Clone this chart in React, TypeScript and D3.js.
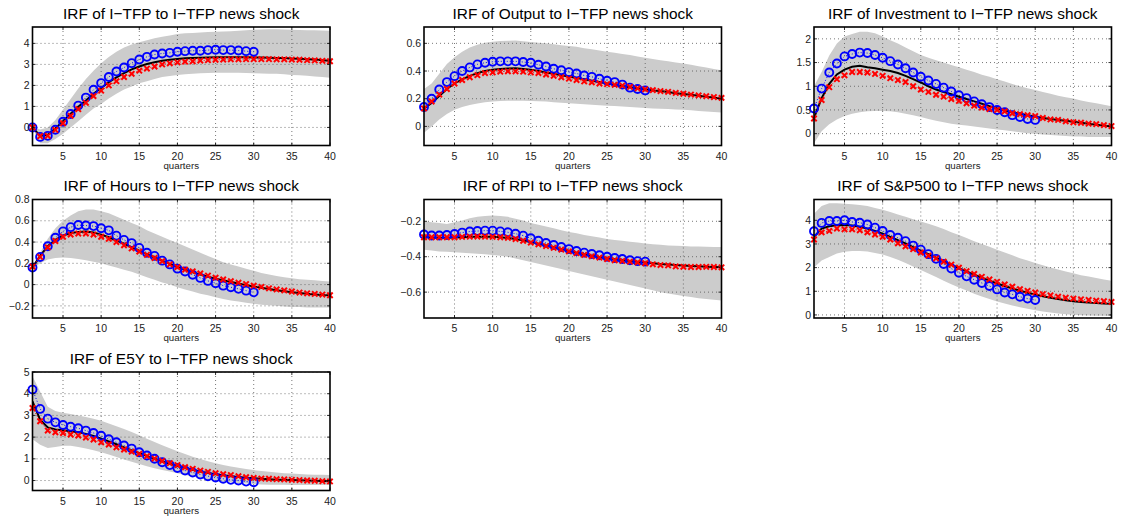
import React from "react";
import * as d3 from "d3";

const quarters = d3.range(1, 41);
const xTicks = [5, 10, 15, 20, 25, 30, 35, 40];

// ---- I-TFP ----
const itfpMedian = [0, -0.4, -0.35, -0.05, 0.3, 0.65, 0.98, 1.28, 1.6, 1.88, 2.15, 2.38, 2.58, 2.76, 2.9, 3.02, 3.1, 3.17, 3.22, 3.26, 3.29, 3.31, 3.32, 3.33, 3.34, 3.34, 3.34, 3.34, 3.34, 3.33, 3.33, 3.32, 3.31, 3.3, 3.28, 3.27, 3.25, 3.23, 3.2, 3.17];
const itfpUpper = [0.05, -0.1, 0.0, 0.35, 0.85, 1.35, 1.85, 2.3, 2.7, 3.05, 3.35, 3.6, 3.8, 3.95, 4.05, 4.15, 4.25, 4.32, 4.38, 4.45, 4.48, 4.5, 4.52, 4.54, 4.55, 4.57, 4.58, 4.6, 4.62, 4.65, 4.66, 4.67, 4.67, 4.66, 4.65, 4.64, 4.63, 4.62, 4.61, 4.6];
const itfpLower = [-0.05, -0.75, -0.75, -0.55, -0.3, 0.0, 0.3, 0.6, 0.9, 1.12, 1.38, 1.6, 1.8, 1.95, 2.1, 2.2, 2.3, 2.4, 2.45, 2.5, 2.53, 2.56, 2.58, 2.59, 2.6, 2.6, 2.6, 2.6, 2.59, 2.58, 2.57, 2.56, 2.55, 2.53, 2.5, 2.48, 2.46, 2.43, 2.4, 2.37];
const itfpBlue = [0, -0.45, -0.4, -0.11, 0.27, 0.64, 1.04, 1.42, 1.79, 2.11, 2.4, 2.66, 2.85, 3.06, 3.23, 3.36, 3.47, 3.52, 3.55, 3.6, 3.63, 3.65, 3.65, 3.68, 3.7, 3.68, 3.68, 3.66, 3.63, 3.6];
const itfpRed = [0, -0.42, -0.4, -0.12, 0.2, 0.55, 0.87, 1.17, 1.49, 1.75, 2.0, 2.2, 2.4, 2.55, 2.7, 2.8, 2.9, 3.0, 3.05, 3.1, 3.13, 3.15, 3.18, 3.2, 3.22, 3.23, 3.24, 3.24, 3.25, 3.25, 3.25, 3.25, 3.24, 3.24, 3.23, 3.22, 3.2, 3.19, 3.17, 3.15];

// ---- Output ----
const outMedian = [0.13, 0.17, 0.22, 0.27, 0.31, 0.34, 0.365, 0.385, 0.4, 0.41, 0.415, 0.418, 0.42, 0.415, 0.41, 0.4, 0.39, 0.38, 0.37, 0.36, 0.35, 0.34, 0.33, 0.32, 0.31, 0.3, 0.29, 0.283, 0.275, 0.268, 0.26, 0.255, 0.248, 0.24, 0.234, 0.228, 0.222, 0.215, 0.208, 0.2];
const outUpper = [0.27, 0.31, 0.38, 0.45, 0.5, 0.54, 0.57, 0.59, 0.605, 0.612, 0.616, 0.618, 0.62, 0.615, 0.61, 0.605, 0.6, 0.593, 0.587, 0.58, 0.575, 0.565, 0.557, 0.548, 0.54, 0.532, 0.523, 0.515, 0.505, 0.495, 0.487, 0.478, 0.47, 0.462, 0.455, 0.445, 0.435, 0.425, 0.415, 0.405];
const outLower = [-0.045, 0.0, 0.05, 0.09, 0.12, 0.14, 0.155, 0.165, 0.175, 0.18, 0.183, 0.185, 0.185, 0.185, 0.184, 0.182, 0.179, 0.175, 0.171, 0.168, 0.164, 0.16, 0.157, 0.153, 0.15, 0.147, 0.143, 0.14, 0.137, 0.133, 0.13, 0.128, 0.125, 0.122, 0.12, 0.116, 0.112, 0.108, 0.104, 0.1];
const outBlue = [0.14, 0.2, 0.266, 0.32, 0.363, 0.4, 0.426, 0.448, 0.46, 0.467, 0.47, 0.47, 0.47, 0.465, 0.46, 0.445, 0.433, 0.416, 0.406, 0.392, 0.382, 0.368, 0.358, 0.344, 0.33, 0.32, 0.302, 0.28, 0.27, 0.26];
const outRed = [0.13, 0.18, 0.23, 0.27, 0.31, 0.335, 0.355, 0.37, 0.385, 0.39, 0.395, 0.398, 0.398, 0.395, 0.39, 0.385, 0.375, 0.365, 0.355, 0.345, 0.335, 0.325, 0.318, 0.31, 0.305, 0.3, 0.295, 0.285, 0.275, 0.268, 0.262, 0.255, 0.25, 0.242, 0.236, 0.23, 0.224, 0.218, 0.212, 0.206];

// ---- Investment ----
const invMedian = [0.33, 0.75, 1.05, 1.25, 1.35, 1.41, 1.43, 1.4, 1.38, 1.35, 1.32, 1.28, 1.22, 1.15, 1.08, 1.0, 0.93, 0.88, 0.83, 0.78, 0.73, 0.68, 0.63, 0.58, 0.53, 0.49, 0.45, 0.42, 0.39, 0.36, 0.33, 0.31, 0.29, 0.27, 0.25, 0.23, 0.21, 0.19, 0.17, 0.15];
const invUpper = [1.0, 1.3, 1.65, 1.9, 2.05, 2.1, 2.15, 2.15, 2.12, 2.05, 1.97, 1.9, 1.82, 1.74, 1.66, 1.6, 1.55, 1.5, 1.45, 1.4, 1.35, 1.3, 1.24, 1.2, 1.15, 1.1, 1.05, 1.0, 0.96, 0.92, 0.88, 0.84, 0.8, 0.77, 0.74, 0.7, 0.67, 0.64, 0.61, 0.58];
const invLower = [-0.2, 0.05, 0.2, 0.3, 0.37, 0.42, 0.45, 0.47, 0.48, 0.48, 0.47, 0.45, 0.42, 0.39, 0.35, 0.31, 0.27, 0.24, 0.21, 0.19, 0.17, 0.15, 0.13, 0.11, 0.09, 0.07, 0.05, 0.03, 0.01, 0.0, -0.02, -0.03, -0.04, -0.05, -0.06, -0.06, -0.07, -0.07, -0.07, -0.07];
const invBlue = [0.53, 0.95, 1.29, 1.48, 1.63, 1.68, 1.71, 1.7, 1.66, 1.6, 1.53, 1.46, 1.38, 1.29, 1.2, 1.12, 1.05, 0.97, 0.89, 0.81, 0.75, 0.68, 0.62, 0.56, 0.5, 0.45, 0.39, 0.35, 0.31, 0.29];
const invRed = [0.32, 0.71, 0.98, 1.15, 1.23, 1.3, 1.3, 1.29, 1.26, 1.22, 1.17, 1.13, 1.09, 1.0, 0.93, 0.88, 0.82, 0.78, 0.73, 0.69, 0.64, 0.59, 0.55, 0.52, 0.5, 0.47, 0.43, 0.41, 0.39, 0.37, 0.33, 0.3, 0.29, 0.26, 0.24, 0.23, 0.21, 0.2, 0.18, 0.16];

// ---- Hours ----
const hrsMedian = [0.16, 0.27, 0.36, 0.42, 0.46, 0.485, 0.495, 0.5, 0.49, 0.47, 0.445, 0.415, 0.385, 0.35, 0.32, 0.285, 0.255, 0.225, 0.195, 0.165, 0.14, 0.115, 0.095, 0.075, 0.055, 0.04, 0.025, 0.01, -0.005, -0.018, -0.03, -0.042, -0.053, -0.063, -0.072, -0.08, -0.087, -0.093, -0.098, -0.1];
const hrsUpper = [0.17, 0.3, 0.43, 0.53, 0.6, 0.65, 0.69, 0.705, 0.705, 0.69, 0.67, 0.64, 0.61, 0.58, 0.55, 0.51, 0.48, 0.45, 0.42, 0.39, 0.36, 0.33, 0.3, 0.27, 0.24, 0.21, 0.19, 0.17, 0.15, 0.13, 0.11, 0.095, 0.08, 0.07, 0.06, 0.05, 0.045, 0.04, 0.035, 0.03];
const hrsLower = [0.15, 0.2, 0.235, 0.25, 0.255, 0.25, 0.24, 0.23, 0.215, 0.2, 0.18, 0.16, 0.14, 0.12, 0.095, 0.07, 0.045, 0.02, 0.0, -0.025, -0.045, -0.065, -0.085, -0.1, -0.12, -0.135, -0.15, -0.16, -0.17, -0.18, -0.19, -0.195, -0.2, -0.205, -0.21, -0.21, -0.215, -0.215, -0.215, -0.215];
const hrsBlue = [0.16, 0.26, 0.36, 0.44, 0.5, 0.54, 0.56, 0.555, 0.55, 0.53, 0.51, 0.46, 0.42, 0.39, 0.345, 0.3, 0.27, 0.225, 0.19, 0.15, 0.123, 0.092, 0.063, 0.035, 0.013, -0.01, -0.025, -0.04, -0.057, -0.073];
const hrsRed = [0.17, 0.26, 0.35, 0.41, 0.45, 0.47, 0.48, 0.48, 0.47, 0.45, 0.43, 0.4, 0.37, 0.34, 0.31, 0.28, 0.25, 0.22, 0.19, 0.165, 0.14, 0.125, 0.105, 0.085, 0.065, 0.048, 0.032, 0.018, 0.005, -0.01, -0.022, -0.035, -0.045, -0.055, -0.065, -0.075, -0.082, -0.088, -0.094, -0.1];

// ---- RPI ----
const rpiMedian = [-0.288, -0.292, -0.293, -0.293, -0.292, -0.29, -0.288, -0.287, -0.287, -0.288, -0.29, -0.294, -0.3, -0.308, -0.317, -0.327, -0.337, -0.347, -0.357, -0.367, -0.377, -0.386, -0.394, -0.401, -0.408, -0.414, -0.419, -0.424, -0.429, -0.433, -0.437, -0.441, -0.444, -0.447, -0.45, -0.452, -0.454, -0.456, -0.458, -0.46];
const rpiUpper = [-0.2, -0.205, -0.21, -0.215, -0.205, -0.195, -0.183, -0.175, -0.17, -0.168, -0.17, -0.175, -0.185, -0.195, -0.21, -0.22, -0.23, -0.24, -0.25, -0.26, -0.268, -0.277, -0.285, -0.292, -0.3, -0.305, -0.31, -0.315, -0.32, -0.325, -0.33, -0.333, -0.336, -0.338, -0.34, -0.342, -0.343, -0.344, -0.345, -0.345];
const rpiLower = [-0.36, -0.365, -0.37, -0.372, -0.375, -0.377, -0.38, -0.383, -0.386, -0.39, -0.395, -0.4, -0.41, -0.42, -0.43, -0.44, -0.45, -0.46, -0.47, -0.48, -0.49, -0.5, -0.51, -0.52, -0.53, -0.54, -0.55, -0.56, -0.57, -0.58, -0.59, -0.6, -0.607, -0.615, -0.622, -0.628, -0.634, -0.639, -0.643, -0.647];
const rpiBlue = [-0.275, -0.28, -0.28, -0.277, -0.272, -0.264, -0.258, -0.255, -0.253, -0.253, -0.257, -0.262, -0.27, -0.281, -0.296, -0.31, -0.323, -0.334, -0.345, -0.357, -0.368, -0.377, -0.385, -0.392, -0.4, -0.407, -0.413, -0.42, -0.425, -0.428];
const rpiRed = [-0.29, -0.29, -0.29, -0.29, -0.29, -0.288, -0.287, -0.286, -0.287, -0.288, -0.29, -0.293, -0.3, -0.31, -0.32, -0.33, -0.34, -0.35, -0.36, -0.37, -0.38, -0.39, -0.398, -0.405, -0.413, -0.42, -0.424, -0.428, -0.432, -0.437, -0.443, -0.447, -0.449, -0.455, -0.457, -0.458, -0.458, -0.457, -0.458, -0.46];

// ---- S&P500 ----
const spMedian = [3.3, 3.65, 3.75, 3.79, 3.8, 3.78, 3.73, 3.65, 3.55, 3.43, 3.3, 3.16, 3.02, 2.87, 2.72, 2.57, 2.42, 2.27, 2.12, 1.98, 1.84, 1.7, 1.57, 1.45, 1.33, 1.22, 1.12, 1.02, 0.94, 0.86, 0.79, 0.73, 0.67, 0.62, 0.58, 0.55, 0.52, 0.5, 0.48, 0.47];
const spUpper = [4.28, 4.6, 4.72, 4.72, 4.7, 4.68, 4.65, 4.6, 4.52, 4.45, 4.35, 4.25, 4.15, 4.05, 3.95, 3.85, 3.75, 3.63, 3.5, 3.38, 3.25, 3.12, 3.0, 2.88, 2.76, 2.64, 2.52, 2.4, 2.3, 2.2, 2.1, 2.0, 1.92, 1.84, 1.76, 1.68, 1.62, 1.56, 1.5, 1.45];
const spLower = [2.0, 2.3, 2.45, 2.6, 2.67, 2.7, 2.7, 2.68, 2.62, 2.55, 2.45, 2.33, 2.2, 2.05, 1.9, 1.75, 1.6, 1.45, 1.3, 1.16, 1.03, 0.9, 0.78, 0.67, 0.57, 0.48, 0.4, 0.32, 0.26, 0.2, 0.15, 0.1, 0.06, 0.03, 0.01, -0.01, -0.02, -0.03, -0.04, -0.05];
const spBlue = [3.54, 3.89, 3.97, 3.97, 4.0, 3.93, 3.9, 3.82, 3.69, 3.55, 3.38, 3.26, 3.12, 2.93, 2.76, 2.57, 2.37, 2.15, 1.96, 1.78, 1.63, 1.49, 1.35, 1.22, 1.08, 0.95, 0.87, 0.77, 0.69, 0.63];
const spRed = [3.19, 3.49, 3.55, 3.65, 3.62, 3.62, 3.58, 3.49, 3.4, 3.3, 3.19, 3.03, 2.9, 2.78, 2.64, 2.51, 2.39, 2.25, 2.13, 2.0, 1.85, 1.73, 1.61, 1.5, 1.4, 1.29, 1.19, 1.09, 1.02, 0.95, 0.88, 0.83, 0.77, 0.73, 0.69, 0.66, 0.63, 0.6, 0.58, 0.55];

// ---- E5Y ----
const e5yMedian = [3.65, 2.8, 2.45, 2.35, 2.32, 2.27, 2.22, 2.15, 2.05, 1.93, 1.8, 1.67, 1.53, 1.39, 1.26, 1.13, 1.0, 0.88, 0.77, 0.67, 0.58, 0.5, 0.42, 0.35, 0.29, 0.24, 0.2, 0.16, 0.13, 0.1, 0.08, 0.06, 0.04, 0.03, 0.02, 0.01, 0.0, -0.01, -0.02, -0.03];
const e5yUpper = [4.8, 4.1, 3.4, 3.2, 3.12, 3.07, 3.0, 2.93, 2.85, 2.75, 2.63, 2.5, 2.37, 2.23, 2.08, 1.93, 1.78, 1.63, 1.49, 1.35, 1.22, 1.1, 0.99, 0.89, 0.8, 0.72, 0.65, 0.59, 0.53, 0.48, 0.44, 0.4, 0.37, 0.34, 0.32, 0.3, 0.28, 0.27, 0.26, 0.25];
const e5yLower = [1.9, 1.65, 1.5, 1.55, 1.6, 1.6, 1.55, 1.48, 1.4, 1.3, 1.2, 1.08, 0.97, 0.86, 0.76, 0.66, 0.57, 0.49, 0.41, 0.33, 0.25, 0.18, 0.11, 0.05, 0.0, -0.04, -0.08, -0.11, -0.14, -0.16, -0.18, -0.19, -0.2, -0.2, -0.21, -0.21, -0.21, -0.21, -0.21, -0.21];
const e5yBlue = [4.19, 3.3, 2.85, 2.68, 2.56, 2.48, 2.41, 2.3, 2.19, 2.06, 1.9, 1.76, 1.61, 1.47, 1.3, 1.15, 1.0, 0.84, 0.71, 0.58, 0.46, 0.37, 0.28, 0.2, 0.14, 0.08, 0.03, 0.0, -0.05, -0.08];
const e5yRed = [3.34, 2.73, 2.3, 2.22, 2.19, 2.12, 2.07, 1.98, 1.89, 1.76, 1.66, 1.53, 1.43, 1.33, 1.23, 1.12, 1.01, 0.9, 0.8, 0.71, 0.61, 0.54, 0.46, 0.4, 0.34, 0.29, 0.25, 0.2, 0.15, 0.12, 0.09, 0.08, 0.06, 0.05, 0.03, 0.02, 0.0, -0.01, -0.03, -0.04];

const titles = [
  "IRF of I\u2212TFP to I\u2212TFP news shock",
  "IRF of Output to I\u2212TFP news shock",
  "IRF of Investment to I\u2212TFP news shock",
  "IRF of Hours to I\u2212TFP news shock",
  "IRF of RPI to I\u2212TFP news shock",
  "IRF of S&P500 to I\u2212TFP news shock",
  "IRF of E5Y to I\u2212TFP news shock",
];
const yDomains: [number, number][] = [
  [-0.86, 4.78],
  [-0.138, 0.718],
  [-0.25, 2.25],
  [-0.314, 0.8],
  [-0.746, -0.077],
  [-0.13, 4.88],
  [-0.46, 5],
];
const yTicks = [
  [0, 1, 2, 3, 4],
  [0, 0.2, 0.4, 0.6],
  [0, 0.5, 1, 1.5, 2],
  [-0.2, 0, 0.2, 0.4, 0.6, 0.8],
  [-0.6, -0.4, -0.2],
  [0, 1, 2, 3, 4],
  [0, 1, 2, 3, 4, 5],
];
const medians = [itfpMedian, outMedian, invMedian, hrsMedian, rpiMedian, spMedian, e5yMedian];
const uppers = [itfpUpper, outUpper, invUpper, hrsUpper, rpiUpper, spUpper, e5yUpper];
const lowers = [itfpLower, outLower, invLower, hrsLower, rpiLower, spLower, e5yLower];
const blues = [itfpBlue, outBlue, invBlue, hrsBlue, rpiBlue, spBlue, e5yBlue];
const reds = [itfpRed, outRed, invRed, hrsRed, rpiRed, spRed, e5yRed];

const colLeft = [32.5, 424, 814];
const rowTop = [27, 199.5, 372];
const PW = 297.5;
const PH = 118.5;
const FONT = "'Liberation Sans', Arial, Helvetica, sans-serif";

const fmt = (v: number) => String(+v.toFixed(2)).replace("-", "\u2212");

function Panel({ i }: { i: number }) {
  const left = colLeft[i % 3];
  const top = rowTop[Math.floor(i / 3)];
  const right = left + PW;
  const bottom = top + PH;
  const x = d3.scaleLinear().domain([1, 40]).range([left, right]);
  const y = d3.scaleLinear().domain(yDomains[i]).range([bottom, top]);
  const band = d3
    .area<number>()
    .x((d) => x(d))
    .y0((d) => y(lowers[i][d - 1]))
    .y1((d) => y(uppers[i][d - 1]));
  const lineOf = (arr: number[]) =>
    d3
      .line<number>()
      .x((_, k) => x(k + 1))
      .y((d) => y(d))(arr) as string;
  const clipId = `clip${i}`;
  const tl = 3;
  return (
    <g>
      <defs>
        <clipPath id={clipId}>
          <rect x={left} y={top} width={PW} height={PH} />
        </clipPath>
      </defs>
      <rect x={left} y={top} width={PW} height={PH} fill="#fff" />
      <g clipPath={`url(#${clipId})`}>
        <path d={band(quarters) as string} fill="#cccccc" stroke="none" />
        {xTicks.filter((t) => t < 40).map((t) => (
          <line key={"gx" + t} x1={x(t)} x2={x(t)} y1={top} y2={bottom} stroke="#555" strokeWidth={0.8} strokeDasharray="1,3" />
        ))}
        {yTicks[i].map((t) => (
          <line key={"gy" + t} x1={left} x2={right} y1={y(t)} y2={y(t)} stroke="#555" strokeWidth={0.8} strokeDasharray="1,3" />
        ))}
        <path d={lineOf(medians[i])} fill="none" stroke="#000" strokeWidth={2} />
        <path d={lineOf(blues[i])} fill="none" stroke="#0000ff" strokeWidth={1} strokeDasharray="1,2" />
        <path d={lineOf(reds[i])} fill="none" stroke="#ff0000" strokeWidth={1} strokeDasharray="1,2" />
      </g>
      {blues[i].map((v, k) => (
        <circle key={"b" + k} cx={x(k + 1)} cy={y(v)} r={4} fill="none" stroke="#0000ff" strokeWidth={1.9} />
      ))}
      {reds[i].map((v, k) => {
        const cx = x(k + 1);
        const cy = y(v);
        const s = 2.7;
        return (
          <path
            key={"r" + k}
            d={`M${cx - s},${cy - s}L${cx + s},${cy + s}M${cx - s},${cy + s}L${cx + s},${cy - s}`}
            stroke="#ff0000"
            strokeWidth={2}
            fill="none"
          />
        );
      })}
      {xTicks.map((t) => (
        <g key={"tx" + t}>
          <line x1={x(t)} x2={x(t)} y1={bottom} y2={bottom - tl} stroke="#000" strokeWidth={0.8} />
          <line x1={x(t)} x2={x(t)} y1={top} y2={top + tl} stroke="#000" strokeWidth={0.8} />
          <text x={x(t)} y={bottom + 14} textAnchor="middle" fontSize={10.5} fill="#222" fontFamily={FONT}>
            {t}
          </text>
        </g>
      ))}
      {yTicks[i].map((t) => (
        <g key={"ty" + t}>
          <line x1={left} x2={left + tl} y1={y(t)} y2={y(t)} stroke="#000" strokeWidth={0.8} />
          <line x1={right} x2={right - tl} y1={y(t)} y2={y(t)} stroke="#000" strokeWidth={0.8} />
          <text x={left - 3} y={y(t)} dy="0.35em" textAnchor="end" fontSize={10.5} fill="#222" fontFamily={FONT}>
            {fmt(t)}
          </text>
        </g>
      ))}
      <rect x={left} y={top} width={PW} height={PH} fill="none" stroke="#000" strokeWidth={1.6} />
      <text x={(left + right) / 2} y={bottom + 23} textAnchor="middle" fontSize={9.7} fill="#222" fontFamily={FONT}>
        quarters
      </text>
      <text x={(left + right) / 2} y={top - 8.5} textAnchor="middle" fontSize={15.4} fill="#000" fontFamily={FONT}>
        {titles[i]}
      </text>
    </g>
  );
}

export default function App() {
  return (
    <svg width={1124} height={517} style={{ position: "absolute", left: 0, top: 0, background: "#fff" }}>
      <rect x={0} y={0} width={1124} height={517} fill="#fff" />
      {titles.map((_, i) => (
        <Panel key={i} i={i} />
      ))}
    </svg>
  );
}
